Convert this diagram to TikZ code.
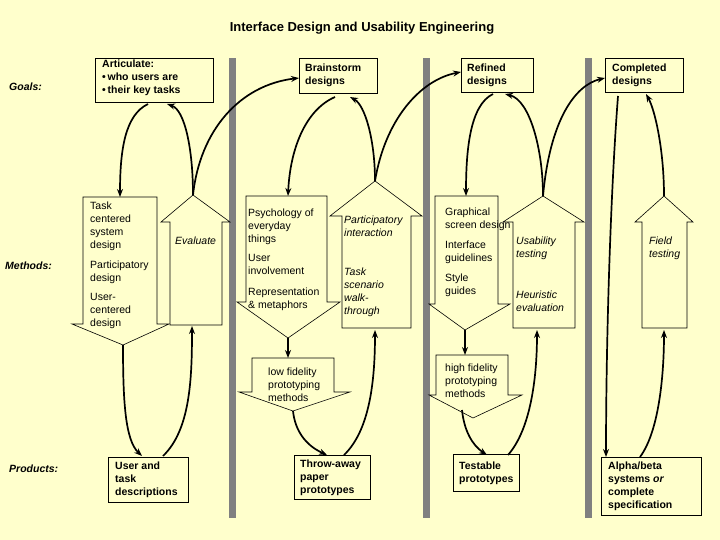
\documentclass[tikz,border=0pt]{standalone}
\usepackage{fontspec}
\setmainfont{Liberation Sans}
\usetikzlibrary{arrows.meta}
\definecolor{bg}{HTML}{FFFFCC}
\definecolor{bar}{HTML}{808080}
\newcommand\dnarr[8]{\draw[blk] (#1,#3) -- (#2,#3) -- (#2,#4) -- (#6,#4) -- (#7,#8) -- (#5,#4) -- (#1,#4) -- cycle;}
\newcommand\uparr[8]{\draw[blk] (#1,#3) -- (#2,#3) -- (#2,#4) -- (#6,#4) -- (#7,#8) -- (#5,#4) -- (#1,#4) -- cycle;}
\begin{document}
\begin{tikzpicture}[x=1pt,y=-1pt,
  blk/.style={draw=black,line width=0.6pt,fill=bg},
  box/.style={draw=black,line width=0.7pt},
  t/.style={anchor=north west,yshift=8.5pt,inner sep=0pt,font=\fontsize{10.5}{13}\selectfont,align=left},
  tb/.style={t,font=\fontsize{10.5}{13}\selectfont\bfseries},
  ti/.style={t,font=\fontsize{10.5}{13}\selectfont\itshape},
  con/.style={line width=1.7pt,-{Stealth[length=8pt,width=6pt]}}]
\fill[bg] (0,0) rectangle (720,540);
\useasboundingbox (0,0) rectangle (720,540);
\node[anchor=base,font=\fontsize{13}{15}\selectfont\bfseries] (title) at (362,32) {Interface Design and Usability Engineering};
\fill[bar] (229,58) rectangle (236,518);
\fill[bar] (423,58) rectangle (430,518);
\fill[bar] (585,58) rectangle (592,518);
\node[tb,font=\fontsize{10.5}{13}\selectfont\bfseries\itshape] (goals) at (9,91) {Goals:};
\node[tb,font=\fontsize{10.5}{13}\selectfont\bfseries\itshape] (meth) at (5,270) {Methods:};
\node[tb,font=\fontsize{10.5}{13}\selectfont\bfseries\itshape] (prod) at (9,473) {Products:};
% goal boxes
\draw[box] (95,58) rectangle (213,102);
\node[tb] (art) at (102,68) {Articulate:\\\textbullet\,who users are\\\textbullet\,their key tasks};
\draw[box] (299,58) rectangle (377,93);
\node[tb] (brain) at (305,72) {Brainstorm\\designs};
\draw[box] (461,58) rectangle (533,92);
\node[tb] (ref) at (467,72) {Refined\\designs};
\draw[box] (605,58) rectangle (683,92);
\node[tb] (comp) at (612,72) {Completed\\designs};
% product boxes
\draw[box] (108,457) rectangle (188,502);
\node[tb] (uat) at (115,470) {User and\\task\\descriptions};
\draw[box] (294,455) rectangle (370,499);
\node[tb] (thr) at (300,468) {Throw-away\\paper\\prototypes};
\draw[box] (453,454) rectangle (519,491);
\node[tb] (tst) at (459,470) {Testable\\prototypes};
\draw[box] (601,457) rectangle (701,515);
\node[tb] (alp) at (608,470) {Alpha/beta\\systems \textit{or}\\complete\\specification};
% block arrows
\dnarr{83}{157}{197}{324}{72}{169}{123}{345}
\uparr{170}{222}{325}{222}{161}{230}{193}{195}
\dnarr{246}{327}{196}{302}{237}{340}{288}{338}
\uparr{342}{411}{328}{216}{330}{422}{375}{181}
\dnarr{252}{334}{358}{392}{239}{350}{293}{411}
\dnarr{436}{508}{355}{395}{429}{522}{473}{418}
\dnarr{435}{498}{196}{304}{429}{510}{465}{330}
\uparr{513}{575}{328}{222}{503}{584}{543}{196}
\uparr{642}{687}{328}{222}{635}{693}{664}{196}
% method texts
\node[t] (m1) at (90,210) {Task\\centered\\system\\design};
\node[t] (m2) at (90,269) {Participatory\\design};
\node[t] (m3) at (90,302) {User-\\centered\\design};
\node[ti] (ev) at (175,245) {Evaluate};
\node[t] (p1) at (248,217) {Psychology of\\everyday\\things};
\node[t] (p2) at (248,263) {User\\involvement};
\node[t] (p3) at (248,296) {Representation\\\& metaphors};
\node[ti] (pi) at (344,224) {Participatory\\interaction};
\node[ti] (ts) at (344,276) {Task\\scenario\\walk-\\through};
\node[t] (lf) at (268,376) {low fidelity\\prototyping\\methods};
\node[t] (g1) at (445,216) {Graphical\\screen design};
\node[t] (g2) at (445,249) {Interface\\guidelines};
\node[t] (g3) at (445,282) {Style\\guides};
\node[ti] (us) at (516,245) {Usability\\testing};
\node[ti] (he) at (516,299) {Heuristic\\evaluation};
\node[ti] (ft) at (649,245) {Field\\testing};
\node[t] (hf) at (445,372) {high fidelity\\prototyping\\methods};
% connector coordinates
\coordinate (a1) at (148,104); \coordinate (a2) at (167,104);
\coordinate (tk) at (120,197); \coordinate (evt) at (193,195);
\coordinate (bl) at (299,78); \coordinate (b1) at (335,97); \coordinate (b2) at (350,97);
\coordinate (pst) at (288,196); \coordinate (pit) at (375,181);
\coordinate (rl) at (461,72); \coordinate (r1) at (493,94); \coordinate (r2) at (505,94);
\coordinate (gt) at (466,196); \coordinate (ust) at (543,196);
\coordinate (cl) at (605,78); \coordinate (c1) at (618,96); \coordinate (c2) at (646,94);
\coordinate (ftt) at (664,196); \coordinate (ftb) at (664,330);
\coordinate (al1) at (606,457); \coordinate (al2) at (640,457);
\coordinate (tkt) at (123,345); \coordinate (u1) at (142,456); \coordinate (u2) at (163,456);
\coordinate (evb) at (192,326);
\coordinate (pst2) at (288,338); \coordinate (lft) at (288,358); \coordinate (lfb) at (293,411);
\coordinate (th1) at (327,455); \coordinate (th2) at (344,455); \coordinate (pib) at (375,330);
\coordinate (gtip) at (465,330); \coordinate (hft) at (465,355); \coordinate (hfb) at (462,410);
\coordinate (te1) at (487,455); \coordinate (te2) at (508,455); \coordinate (usb) at (537,330);
% connectors
\draw[con] (a1) .. controls (125,115) and (120,150) .. (tk);
\draw[con] (evt) .. controls (193,150) and (185,110) .. (a2);
\draw[con] (evt) .. controls (200,130) and (240,85) .. (bl);
\draw[con] (b1) .. controls (305,110) and (290,150) .. (pst);
\draw[con] (pit) .. controls (375,140) and (365,105) .. (b2);
\draw[con] (pit) .. controls (385,120) and (420,80) .. (rl);
\draw[con] (r1) .. controls (470,105) and (466,150) .. (gt);
\draw[con] (ust) .. controls (543,150) and (530,100) .. (r2);
\draw[con] (ust) .. controls (550,120) and (575,85) .. (cl);
\draw[con] (c1) .. controls (610,200) and (606,350) .. (al1);
\draw[con] (ftt) .. controls (664,150) and (655,110) .. (c2);
\draw[con] (al2) .. controls (660,430) and (664,370) .. (ftb);
\draw[con] (tkt) .. controls (123,400) and (125,440) .. (u1);
\draw[con] (u2) .. controls (190,430) and (192,380) .. (evb);
\draw[con] (pst2) -- (lft);
\draw[con] (lfb) .. controls (295,430) and (305,445) .. (th1);
\draw[con] (th2) .. controls (370,430) and (375,380) .. (pib);
\draw[con] (gtip) -- (hft);
\draw[con] (hfb) .. controls (464,430) and (472,445) .. (te1);
\draw[con] (te2) .. controls (530,430) and (537,380) .. (usb);
\end{tikzpicture}
\end{document}
